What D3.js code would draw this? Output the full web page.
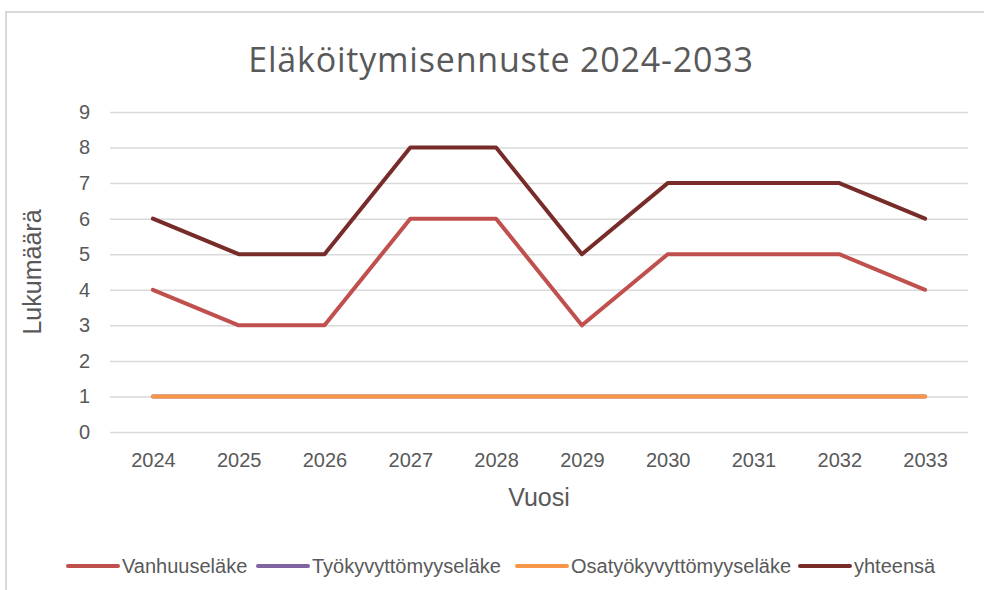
<!DOCTYPE html>
<html>
<head>
<meta charset="utf-8">
<script src="https://cdn.jsdelivr.net/npm/d3@7"></script>
<style>
  body { margin: 0; background: #fff; }
  svg { display: block; }
</style>
</head>
<body>
<div id="chart"></div>
<script>
// data
const years = ['2024', '2025', '2026', '2027', '2028', '2029', '2030', '2031', '2032', '2033'];
const vanhuuselake = [4, 3, 3, 6, 6, 3, 5, 5, 5, 4];
const tyokyvyttomyyselake = [1, 1, 1, 1, 1, 1, 1, 1, 1, 1];
const osatyokyvyttomyyselake = [1, 1, 1, 1, 1, 1, 1, 1, 1, 1];
const yhteensa = [6, 5, 5, 8, 8, 5, 7, 7, 7, 6];
const yTicks = [0, 1, 2, 3, 4, 5, 6, 7, 8, 9];

const series = [
  { name: 'Vanhuuseläke', values: vanhuuselake, color: '#C0504D' },
  { name: 'Työkyvyttömyyseläke', values: tyokyvyttomyyselake, color: '#8064A2' },
  { name: 'Osatyökyvyttömyyseläke', values: osatyokyvyttomyyselake, color: '#F79646' },
  { name: 'yhteensä', values: yhteensa, color: '#772C2A' }
];

const width = 984, height = 590;
const plot = { left: 110, right: 968, top: 112, bottom: 432 };
const textColor = '#595959';
const baseFont = "'Liberation Sans', Arial, sans-serif";

const svg = d3.select('#chart').append('svg')
  .attr('width', width)
  .attr('height', height);

// chart frame (runs past right / bottom edge)
svg.append('rect')
  .attr('x', 6)
  .attr('y', 12)
  .attr('width', 1000)
  .attr('height', 600)
  .attr('fill', '#fff')
  .attr('stroke', '#d9d9d9')
  .attr('stroke-width', 2);

const x = d3.scalePoint().domain(years).range([plot.left, plot.right]).padding(0.5);
const y = d3.scaleLinear().domain([0, 9]).range([plot.bottom, plot.top]);

// title
svg.append('text')
  .attr('x', 501)
  .attr('y', 72)
  .attr('text-anchor', 'middle')
  .attr('fill', textColor)
  .style('font-family', "'Open Sans', sans-serif")
  .style('font-size', '34px')
  .style('letter-spacing', '0.8px')
  .text('Eläköitymisennuste 2024-2033');

// gridlines
svg.append('g')
  .attr('transform', `translate(${plot.left},0)`)
  .call(d3.axisLeft(y).tickValues(yTicks).tickSize(-(plot.right - plot.left)).tickFormat(''))
  .call(g => g.select('.domain').remove())
  .call(g => g.selectAll('line').attr('stroke', '#d9d9d9').attr('stroke-width', 1.5));

// y tick labels
svg.append('g')
  .attr('transform', `translate(${plot.left},0)`)
  .call(d3.axisLeft(y).tickValues(yTicks).tickSize(0).tickPadding(20))
  .call(g => g.select('.domain').remove())
  .call(g => g.selectAll('text')
    .attr('fill', textColor)
    .style('font-family', baseFont)
    .style('font-size', '20px'));

// x tick labels
svg.append('g')
  .attr('transform', `translate(0,${plot.bottom})`)
  .call(d3.axisBottom(x).tickSize(0).tickPadding(21))
  .call(g => g.select('.domain').remove())
  .call(g => g.selectAll('text')
    .attr('fill', textColor)
    .style('font-family', baseFont)
    .style('font-size', '20px'));

// axis titles
svg.append('text')
  .attr('transform', 'translate(41,272) rotate(-90)')
  .attr('text-anchor', 'middle')
  .attr('fill', textColor)
  .style('font-family', baseFont)
  .style('font-size', '25px')
  .text('Lukumäärä');

svg.append('text')
  .attr('x', 539)
  .attr('y', 506)
  .attr('text-anchor', 'middle')
  .attr('fill', textColor)
  .style('font-family', baseFont)
  .style('font-size', '25px')
  .text('Vuosi');

// lines
const line = d3.line()
  .x((d, i) => x(years[i]))
  .y(d => y(d));

svg.append('g')
  .selectAll('path')
  .data(series)
  .join('path')
  .attr('d', d => line(d.values))
  .attr('fill', 'none')
  .attr('stroke', d => d.color)
  .attr('stroke-width', 4)
  .attr('stroke-linecap', 'round')
  .attr('stroke-linejoin', 'round');

// legend
const legendX = [68, 258, 517, 800];
const legend = svg.append('g')
  .attr('transform', 'translate(0,566)');

const items = legend.selectAll('.legend-item')
  .data(series)
  .join('g')
  .attr('class', 'legend-item')
  .attr('transform', (d, i) => `translate(${legendX[i]},0)`);

items.append('line')
  .attr('x1', 0)
  .attr('x2', 50)
  .attr('stroke', d => d.color)
  .attr('stroke-width', 4)
  .attr('stroke-linecap', 'round');

items.append('text')
  .attr('x', 54)
  .attr('dy', '0.35em')
  .attr('fill', textColor)
  .style('font-family', baseFont)
  .style('font-size', '20px')
  .text(d => d.name);
</script>
</body>
</html>
